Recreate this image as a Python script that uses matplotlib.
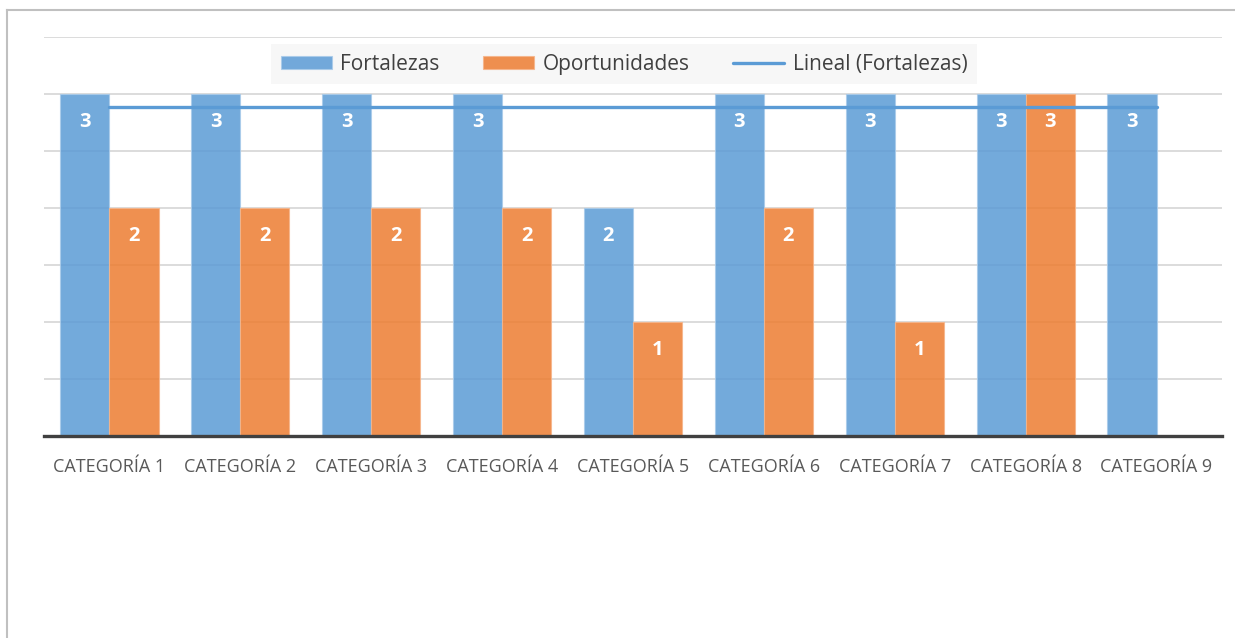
import numpy as np
import matplotlib.pyplot as plt
from matplotlib.lines import Line2D

plt.rcParams['font.family'] = ['Open Sans', 'DejaVu Sans']

# data
categories = ["CATEGORÍA 1", "CATEGORÍA 2", "CATEGORÍA 3", "CATEGORÍA 4", "CATEGORÍA 5",
              "CATEGORÍA 6", "CATEGORÍA 7", "CATEGORÍA 8", "CATEGORÍA 9"]
fortalezas = [3, 3, 3, 3, 2, 3, 3, 3, 3]
oportunidades = [2, 2, 2, 2, 1, 2, 1, 3, np.nan]

blue = '#5b9bd5'
orange = '#ed7d31'

fig = plt.figure(figsize=(12.35, 6.38), dpi=100)
ax = fig.add_axes([44 / 1235, 1 - 436 / 638, (1222 - 44) / 1235, (436 - 37) / 638])

x = np.arange(len(categories))
w = 0.375

b1 = ax.bar(x - w / 2, fortalezas, w, color=blue, alpha=0.85, edgecolor='#a9cbea',
            linewidth=0.8, label='Fortalezas', zorder=2)
b2 = ax.bar(x + w / 2, oportunidades, w, color=orange, alpha=0.85, edgecolor='#f6b58a',
            linewidth=0.8, label='Oportunidades', zorder=2)

# linear trend of Fortalezas
coef = np.polyfit(x + 1, fortalezas, 1)
trend = np.polyval(coef, x + 1)
ln, = ax.plot(x, trend, color=blue, linewidth=2.4, solid_capstyle='round',
              label='Lineal (Fortalezas)', zorder=3)

# labels inside bar ends
for bars, vals in ((b1, fortalezas), (b2, oportunidades)):
    for rect, v in zip(bars, vals):
        if np.isnan(v):
            continue
        ax.annotate(f"{v:g}", (rect.get_x() + rect.get_width() / 2, v),
                    xytext=(0, -20.5), textcoords='offset points',
                    ha='center', va='center', color='white',
                    fontsize=14.5, fontweight='bold', zorder=4)

ax.set_xlim(-0.5, len(categories) - 0.5)
ax.set_ylim(0, 3.5)
ax.set_yticks(np.arange(0.5, 3.51, 0.5))
ax.yaxis.grid(True, color='#d9d9d9', linewidth=1.3, zorder=0)
ax.set_axisbelow(True)
ax.tick_params(axis='y', left=False, labelleft=False)
ax.tick_params(axis='x', bottom=False, pad=12, labelsize=13, labelcolor='#595959')
ax.set_xticks(x)
ax.set_xticklabels(categories)

for s in ('top', 'right', 'left'):
    ax.spines[s].set_visible(False)
ax.spines['bottom'].set_color('#404040')
ax.spines['bottom'].set_linewidth(2.4)
ax.spines['bottom'].set_zorder(5)

leg = ax.legend(handles=[b1, b2, ln], loc='center', bbox_to_anchor=(0.4925, 0.932), ncol=3,
                frameon=True, fancybox=False, edgecolor='none', facecolor='#f7f7f7',
                framealpha=1, fontsize=15, handlelength=2.45, handleheight=0.55,
                handletextpad=0.4, columnspacing=2.1, borderpad=0.45, labelcolor='#404040')

# outer frame
fig.add_artist(Line2D([7 / 1235, 7 / 1235], [0, 1 - 10 / 638], color='#c0c0c0', linewidth=1.5))
fig.add_artist(Line2D([7 / 1235, 1], [1 - 10 / 638, 1 - 10 / 638], color='#c0c0c0', linewidth=1.5))

fig.savefig('out.png', dpi=100)
